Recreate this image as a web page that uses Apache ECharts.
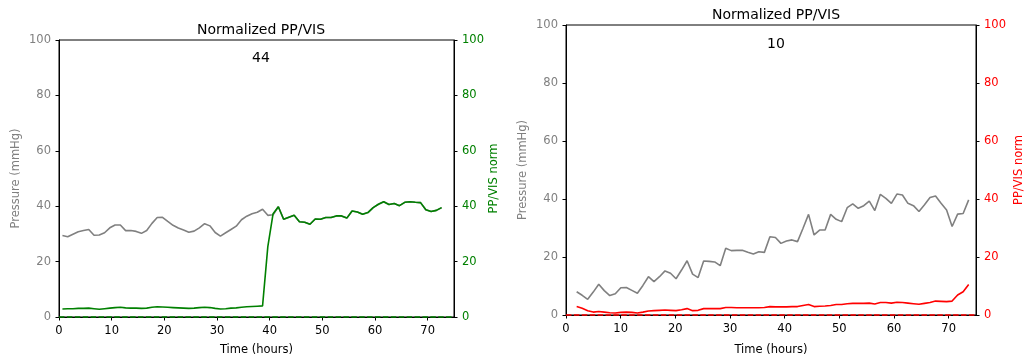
<!DOCTYPE html>
<html>
<head>
<meta charset="utf-8">
<script src="https://cdn.jsdelivr.net/npm/echarts@6/dist/echarts.min.js"></script>
<style>
  html, body { margin: 0; padding: 0; background: #fff; }
  #chart { width: 1027px; height: 358px; }
</style>
</head>
<body>
<div id="chart"></div>
<script>
// Patient 44: hourly samples
const hours44 = [0.65, 1.65, 2.65, 3.65, 4.65, 5.65, 6.65, 7.65, 8.65, 9.65,
  10.65, 11.65, 12.65, 13.65, 14.65, 15.65, 16.65, 17.65, 18.65, 19.65,
  20.65, 21.65, 22.65, 23.65, 24.65, 25.65, 26.65, 27.65, 28.65, 29.65,
  30.65, 31.65, 32.65, 33.65, 34.65, 35.65, 36.65, 37.65, 38.65, 39.65,
  40.65, 41.65, 42.65, 43.65, 44.65, 45.65, 46.65, 47.65, 48.65, 49.65,
  50.65, 51.65, 52.65, 53.65, 54.65, 55.65, 56.65, 57.65, 58.65, 59.65,
  60.65, 61.65, 62.65, 63.65, 64.65, 65.65, 66.65, 67.65, 68.65, 69.65,
  70.65, 71.65, 72.65];
const pressure44 = [29.4, 29.0, 29.9, 30.8, 31.2, 31.6, 29.5, 29.6, 30.4, 32.2,
  33.2, 33.2, 31.2, 31.2, 30.9, 30.2, 31.2, 33.8, 35.9, 36.0,
  34.5, 33.1, 32.1, 31.4, 30.6, 31.0, 32.2, 33.7, 32.9, 30.5,
  29.2, 30.4, 31.6, 32.8, 35.1, 36.4, 37.3, 37.8, 38.9, 36.7,
  36.9, 39.8, 35.3, 36.0, 36.7, 34.4, 34.2, 33.5, 35.4, 35.3,
  35.9, 35.9, 36.5, 36.5, 35.7, 38.3, 37.9, 37.1, 37.7, 39.5,
  40.7, 41.6, 40.6, 41.0, 40.2, 41.4, 41.6, 41.4, 41.3, 38.7,
  38.1, 38.5, 39.5];
const ppvis44 = [2.9, 3.0, 3.0, 3.1, 3.1, 3.2, 3.0, 2.8, 3.0, 3.2,
  3.4, 3.5, 3.3, 3.2, 3.2, 3.1, 3.2, 3.5, 3.7, 3.6,
  3.5, 3.4, 3.3, 3.2, 3.1, 3.2, 3.4, 3.5, 3.4, 3.1,
  2.9, 3.0, 3.2, 3.3, 3.5, 3.7, 3.8, 3.9, 4.0, 25.4,
  37.3, 39.8, 35.3, 36.0, 36.7, 34.4, 34.2, 33.5, 35.4, 35.3,
  35.9, 35.9, 36.5, 36.5, 35.7, 38.3, 37.9, 37.1, 37.7, 39.5,
  40.7, 41.6, 40.6, 41.0, 40.2, 41.4, 41.6, 41.4, 41.3, 38.7,
  38.1, 38.5, 39.5];

// Patient 10: hourly samples
const hours10 = [1.95, 2.96, 3.97, 4.98, 5.99, 7.00, 8.01, 9.02, 10.03, 11.04,
  12.05, 13.06, 14.07, 15.08, 16.09, 17.10, 18.11, 19.12, 20.13, 21.14,
  22.15, 23.16, 24.17, 25.18, 26.19, 27.20, 28.21, 29.22, 30.23, 31.24,
  32.25, 33.26, 34.27, 35.28, 36.29, 37.30, 38.31, 39.32, 40.33, 41.34,
  42.35, 43.36, 44.37, 45.38, 46.39, 47.40, 48.41, 49.42, 50.43, 51.44,
  52.45, 53.46, 54.47, 55.48, 56.49, 57.50, 58.51, 59.52, 60.53, 61.54,
  62.55, 63.56, 64.57, 65.58, 66.59, 67.60, 68.61, 69.62, 70.63, 71.64,
  72.65, 73.66];
const pressure10 = [8.0, 6.8, 5.4, 7.9, 10.6, 8.4, 6.7, 7.3, 9.4, 9.5,
  8.5, 7.5, 10.2, 13.2, 11.5, 13.2, 15.2, 14.4, 12.5, 15.5,
  18.7, 14.1, 12.9, 18.6, 18.5, 18.3, 17.0, 23.0, 22.2, 22.3,
  22.3, 21.6, 21.0, 21.8, 21.6, 27.0, 26.7, 24.7, 25.5, 25.9,
  25.3, 29.9, 34.7, 27.6, 29.3, 29.3, 34.7, 33.0, 32.2, 37.0,
  38.3, 36.8, 37.7, 39.3, 36.0, 41.6, 40.2, 38.5, 41.7, 41.4,
  38.5, 37.7, 35.7, 38.0, 40.5, 41.0, 38.5, 36.2, 30.5, 34.8,
  35.0, 39.7];
const ppvis10 = [2.9, 2.3, 1.5, 1.0, 1.2, 1.0, 0.8, 0.7, 0.9, 1.0,
  0.9, 0.7, 1.0, 1.4, 1.5, 1.6, 1.7, 1.6, 1.5, 1.8,
  2.2, 1.5, 1.6, 2.2, 2.2, 2.2, 2.2, 2.6, 2.6, 2.5,
  2.5, 2.5, 2.5, 2.5, 2.6, 2.9, 2.8, 2.8, 2.8, 2.9,
  2.9, 3.3, 3.6, 2.9, 3.0, 3.1, 3.3, 3.6, 3.6, 3.9,
  4.0, 4.0, 4.0, 4.1, 3.8, 4.3, 4.3, 4.1, 4.4, 4.3,
  4.1, 3.9, 3.7, 4.0, 4.3, 4.8, 4.7, 4.6, 4.8, 6.9,
  8.0, 10.5];

const xTicks = [0, 10, 20, 30, 40, 50, 60, 70];

const FONT = 'DejaVu Sans';
const TICK_SIZE = 11.5;
const TITLE_SIZE = 14;
const GRAY = '#808080';
const GREEN = '#008000';
const RED = '#ff0000';

const zip = (xs, ys) => xs.map((x, i) => [x, ys[i]]);

function xAxisFor(gridIndex, nameGap) {
  return {
    type: 'value', gridIndex, min: 0, max: 75,
    name: 'Time (hours)', nameLocation: 'middle', nameGap,
    nameTextStyle: { color: '#000', fontSize: TICK_SIZE, fontFamily: FONT },
    axisLine: { show: true, onZero: false, lineStyle: { color: '#000', width: 1 } },
    axisTick: { show: true, inside: false, length: 3.5, customValues: xTicks, lineStyle: { color: '#000' } },
    axisLabel: { customValues: xTicks, margin: 8, color: '#000', fontSize: TICK_SIZE, fontFamily: FONT },
    splitLine: { show: false }
  };
}

function yAxisFor(gridIndex, position, name, color, nameGap) {
  return {
    type: 'value', gridIndex, position, min: 0, max: 100, interval: 20,
    name, nameLocation: 'middle', nameGap, nameRotate: 90,
    nameTextStyle: { color, fontSize: TICK_SIZE, fontFamily: FONT },
    axisLine: { show: true, onZero: false, lineStyle: { color: '#000', width: 1 } },
    axisTick: { show: true, inside: false, length: 3.5, lineStyle: { color: '#000' } },
    axisLabel: { margin: 8, color, fontSize: TICK_SIZE, fontFamily: FONT },
    splitLine: { show: false }
  };
}

function lineSeries(xi, yi, data, color, z, withZero) {
  const s = {
    type: 'line', xAxisIndex: xi, yAxisIndex: yi, data,
    showSymbol: false, symbol: 'none', z,
    lineStyle: { color, width: 1.6 },
    itemStyle: { color },
    silent: true
  };
  if (withZero) {
    // dashed reference line at zero on the ratio axis
    s.markLine = {
      silent: true, symbol: ['none', 'none'], label: { show: false },
      lineStyle: { color, width: 1.5, type: [5.5, 2.4] },
      data: [{ yAxis: 0 }]
    };
  }
  return s;
}

const titleStyle = { fontSize: TITLE_SIZE, fontWeight: 'normal', color: '#000', fontFamily: FONT };

const gridBase = {
  show: true, borderColor: '#000', borderWidth: 1, backgroundColor: 'transparent',
  containLabel: false, outerBoundsMode: 'none'
};

const chart = echarts.init(document.getElementById('chart'), null, { renderer: 'canvas' });
chart.setOption({
  animation: false,
  backgroundColor: '#fff',
  textStyle: { fontFamily: FONT },
  title: [
    { text: 'Normalized PP/VIS', left: 256, top: 18, textAlign: 'center', textStyle: titleStyle },
    { text: '44', left: 256, top: 46, textAlign: 'center', textStyle: titleStyle },
    { text: 'Normalized PP/VIS', left: 771, top: 3, textAlign: 'center', textStyle: titleStyle },
    { text: '10', left: 771, top: 32, textAlign: 'center', textStyle: titleStyle }
  ],
  grid: [
    Object.assign({ left: 59, right: 573, top: 40, bottom: 41 }, gridBase),
    Object.assign({ left: 566, right: 51, top: 25, bottom: 43 }, gridBase)
  ],
  xAxis: [xAxisFor(0, 27), xAxisFor(1, 29)],
  yAxis: [
    yAxisFor(0, 'left', 'Pressure (mmHg)', GRAY, 37),
    yAxisFor(0, 'right', 'PP/VIS norm', GREEN, 33),
    yAxisFor(1, 'left', 'Pressure (mmHg)', GRAY, 37),
    yAxisFor(1, 'right', 'PP/VIS norm', RED, 37)
  ],
  series: [
    lineSeries(0, 0, zip(hours44, pressure44), GRAY, 2, false),
    lineSeries(0, 1, zip(hours44, ppvis44), GREEN, 3, true),
    lineSeries(1, 2, zip(hours10, pressure10), GRAY, 2, false),
    lineSeries(1, 3, zip(hours10, ppvis10), RED, 3, true)
  ]
});
</script>
</body>
</html>
